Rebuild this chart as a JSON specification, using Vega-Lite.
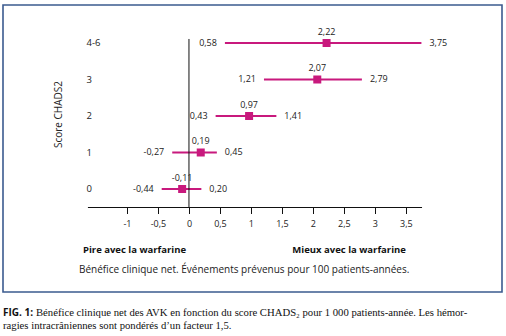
{
  "$schema": "https://vega.github.io/schema/vega-lite/v6.json",
  "width": 499,
  "height": 287,
  "autosize": {"type": "none"},
  "padding": {"left": 3, "top": 5, "right": 4, "bottom": 44},
  "background": "white",
  "config": {
    "view": {"stroke": "#3b5b8f", "strokeWidth": 1.6},
    "locale": {"number": {"decimal": ",", "thousands": " ", "grouping": [3], "currency": ["", ""], "minus": "-"}},
    "text": {"font": "Open Sans", "fontSize": 9, "color": "#222222"},
    "axisX": {
      "offset": -84.5, "domain": false, "grid": false,
      "tickSize": 6, "tickColor": "#111111", "tickWidth": 1,
      "labelFont": "Open Sans", "labelFontSize": 9, "labelColor": "#222222", "labelPadding": 6,
      "titleFont": "Open Sans", "titleFontSize": 10, "titleFontWeight": "normal", "titleColor": "#222222",
      "titleX": 240.7, "titleY": 61.5, "titleBaseline": "middle", "titleAnchor": "middle"
    },
    "axisY": {
      "offset": -83, "domain": false, "ticks": false, "grid": false,
      "labelAlign": "left", "labelPadding": 0, "labelFont": "Open Sans", "labelFontSize": 9.5, "labelColor": "#222222",
      "titleFont": "Open Sans", "titleFontSize": 10, "titleFontWeight": "normal", "titleColor": "#222222",
      "titleX": -28, "titleY": 109, "titleAngle": 270, "titleBaseline": "middle", "titleAlign": "center"
    }
  },
  "data": {"values": [
    {"score": "4-6", "s": 4, "mean": 2.22, "lo": 0.58, "hi": 3.75},
    {"score": "3", "s": 3, "mean": 2.07, "lo": 1.21, "hi": 2.79},
    {"score": "2", "s": 2, "mean": 0.97, "lo": 0.43, "hi": 1.41},
    {"score": "1", "s": 1, "mean": 0.19, "lo": -0.27, "hi": 0.45},
    {"score": "0", "s": 0, "mean": -0.11, "lo": -0.44, "hi": 0.20}
  ]},
  "encoding": {
    "x": {"type": "quantitative", "scale": {"domain": [-3, 5.05], "nice": false, "zero": false},
      "axis": {"title": "Bénéfice clinique net. Événements prévenus pour 100 patients-années.",
        "orient": "bottom", "values": [-1, -0.5, 0, 0.5, 1, 1.5, 2, 2.5, 3, 3.5], "format": ".1~f"}},
    "y": {"type": "quantitative", "scale": {"domain": [-2.822, 5.041], "nice": false, "zero": false},
      "axis": {"title": "Score CHADS2", "orient": "left", "values": [0, 1, 2, 3, 4],
        "labelExpr": "datum.value == 4 ? '4-6' : datum.label"}}
  },
  "layer": [
    {
      "mark": {"type": "rule", "color": "#c8197d", "strokeWidth": 2},
      "encoding": {
        "x": {"field": "lo"},
        "x2": {"field": "hi"},
        "y": {"field": "s"}
      }
    },
    {
      "data": {"values": [{}]},
      "mark": {"type": "rule", "color": "#111111", "strokeWidth": 1},
      "encoding": {
        "x": {"datum": 0},
        "y": {"datum": 4.11},
        "y2": {"datum": -0.507}
      }
    },
    {
      "data": {"values": [{}]},
      "mark": {"type": "rule", "color": "#111111", "strokeWidth": 1},
      "encoding": {
        "x": {"datum": -1.63},
        "x2": {"datum": 3.76},
        "y": {"datum": -0.507}
      }
    },
    {
      "mark": {"type": "square", "color": "#c8197d", "size": 64, "opacity": 1, "filled": true},
      "encoding": {
        "x": {"field": "mean"},
        "y": {"field": "s"}
      }
    },
    {
      "mark": {"type": "text", "dy": -11, "align": "center", "baseline": "middle"},
      "encoding": {
        "x": {"field": "mean"},
        "y": {"field": "s"},
        "text": {"field": "mean", "type": "quantitative", "format": ".2f"}
      }
    },
    {
      "mark": {"type": "text", "dx": -8, "align": "right", "baseline": "middle"},
      "encoding": {
        "x": {"field": "lo"},
        "y": {"field": "s"},
        "text": {"field": "lo", "type": "quantitative", "format": ".2f"}
      }
    },
    {
      "mark": {"type": "text", "dx": 8, "align": "left", "baseline": "middle"},
      "encoding": {
        "x": {"field": "hi"},
        "y": {"field": "s"},
        "text": {"field": "hi", "type": "quantitative", "format": ".2f"}
      }
    },
    {
      "data": {"values": [{"t": "Pire avec la warfarine"}]},
      "mark": {"type": "text", "align": "left", "baseline": "middle", "fontWeight": "bold", "fontSize": 9.5, "color": "#111111"},
      "encoding": {
        "x": {"datum": -1.71},
        "y": {"datum": -1.671},
        "text": {"field": "t"}
      }
    },
    {
      "data": {"values": [{"t": "Mieux avec la warfarine"}]},
      "mark": {"type": "text", "align": "right", "baseline": "middle", "fontWeight": "bold", "fontSize": 9.5, "color": "#111111"},
      "encoding": {
        "x": {"datum": 3.5},
        "y": {"datum": -1.671},
        "text": {"field": "t"}
      }
    },
    {
      "data": {"values": [{"t": "FIG. 1:"}]},
      "mark": {"type": "text", "align": "left", "baseline": "middle", "fontWeight": "bold", "font": "Open Sans", "fontSize": 10, "color": "#111111"},
      "encoding": {
        "x": {"datum": -3.0},
        "y": {"datum": -3.384},
        "text": {"field": "t"}
      }
    },
    {
      "data": {"values": [{"t": "Bénéfice clinique net des AVK en fonction du score CHADS₂ pour 1 000 patients-année. Les hémor-"}]},
      "mark": {"type": "text", "align": "left", "baseline": "middle", "font": "Liberation Serif", "fontSize": 10.7, "color": "#111111"},
      "encoding": {
        "x": {"datum": -2.468},
        "y": {"datum": -3.384},
        "text": {"field": "t"}
      }
    },
    {
      "data": {"values": [{"t": "ragies intracrâniennes sont pondérés d’un facteur 1,5."}]},
      "mark": {"type": "text", "align": "left", "baseline": "middle", "font": "Liberation Serif", "fontSize": 10.7, "color": "#111111"},
      "encoding": {
        "x": {"datum": -3.0},
        "y": {"datum": -3.767},
        "text": {"field": "t"}
      }
    }
  ]
}
